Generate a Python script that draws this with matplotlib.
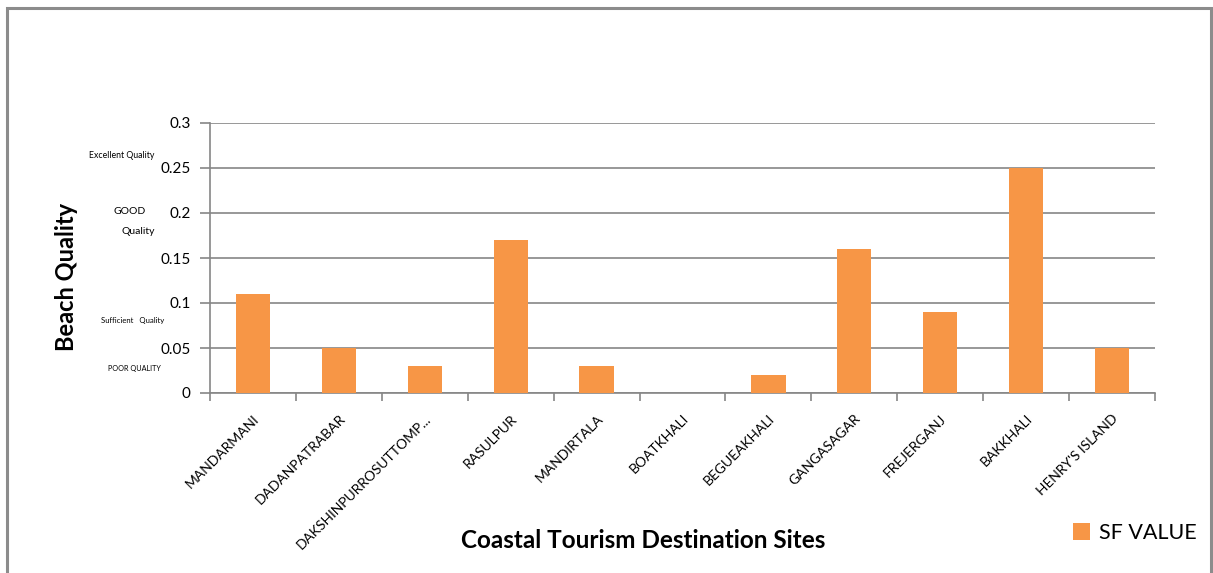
import matplotlib.pyplot as plt
from matplotlib.patches import Rectangle

# donnees
sites = ["MANDARMANI", "DADANPATRABAR", "DAKSHINPURROSUTTOMP...", "RASULPUR",
         "MANDIRTALA", "BOATKHALI", "BEGUEAKHALI", "GANGASAGAR", "FREJERGANJ",
         "BAKKHALI", "HENRY'S ISLAND"]
sf_value = [0.11, 0.05, 0.03, 0.17, 0.03, 0.0, 0.02, 0.16, 0.09, 0.25, 0.05]
y_ticks = [0, 0.05, 0.1, 0.15, 0.2, 0.25, 0.3]
y_tick_labels = ["0", "0.05", "0.1", "0.15", "0.2", "0.25", "0.3"]

plt.rcParams['font.family'] = ['Lato', 'DejaVu Sans']

W, H = 1213, 573
fig = plt.figure(figsize=(W / 100, H / 100), dpi=100)
ax = fig.add_axes([210 / W, 1 - 393 / H, (1155 - 210) / W, (393 - 123) / H])

# cadre exterieur gris
fig.patches.append(Rectangle((7 / W, -0.05), (1211 - 7) / W, 1 - 8 / H + 0.05,
                             transform=fig.transFigure, fill=False,
                             edgecolor="#8c8c8c", linewidth=2.2))

x = range(len(sites))
ax.bar(x, sf_value, width=0.4, color="#F79646", label="SF VALUE", zorder=3)

ax.set_xlim(-0.5, len(sites) - 0.5)
ax.set_ylim(0, 0.3)
ax.set_yticks(y_ticks)
ax.set_yticklabels(y_tick_labels, fontsize=11)
ax.yaxis.grid(True, color="#868686", linewidth=1.2, zorder=0)

# ticks de l'axe x entre les categories
ax.set_xticks([i - 0.5 for i in range(len(sites) + 1)], minor=False)
ax.set_xticklabels([])
ax.set_xticks(list(x), minor=True)
ax.set_xticklabels(sites, minor=True, rotation=45, ha="right", rotation_mode="anchor",
                   fontsize=10)
ax.tick_params(axis="x", which="major", length=6, color="#868686", width=1.2)
ax.tick_params(axis="x", which="minor", length=0, pad=14)
ax.tick_params(axis="y", length=7, color="#868686", width=1.2, pad=7)

for s in ["top", "right"]:
    ax.spines[s].set_visible(False)
for s in ["left", "bottom"]:
    ax.spines[s].set_color("#868686")
    ax.spines[s].set_linewidth(1.2)

# etiquettes de qualite a gauche
fig.text(122 / W, 1 - 155 / H, "Excellent Quality", fontsize=6.3, ha="center", va="center")
fig.text(130 / W, 1 - 211 / H, "GOOD", fontsize=7.5, ha="center", va="center")
fig.text(138 / W, 1 - 232 / H, "Quality", fontsize=7.5, ha="center", va="center")
fig.text(133 / W, 1 - 320 / H, "Sufficient   Quality", fontsize=5.6, ha="center", va="center")
fig.text(134 / W, 1 - 368 / H, "POOR QUALITY", fontsize=5.2, ha="center", va="center")

fig.text(67 / W, 1 - 277 / H, "Beach Quality", fontsize=17, fontweight="bold",
         rotation=90, ha="center", va="center")
fig.text(643 / W, 1 - 540 / H, "Coastal Tourism Destination Sites", fontsize=17.5,
         fontweight="bold", ha="center", va="center")

fig.legend(loc="center left", bbox_to_anchor=(1073 / W, 1 - 533 / H), frameon=False,
           fontsize=15.5, handlelength=0.8, handleheight=0.8, handletextpad=0.4,
           borderpad=0, borderaxespad=0)

fig.savefig("out.png", dpi=100)
